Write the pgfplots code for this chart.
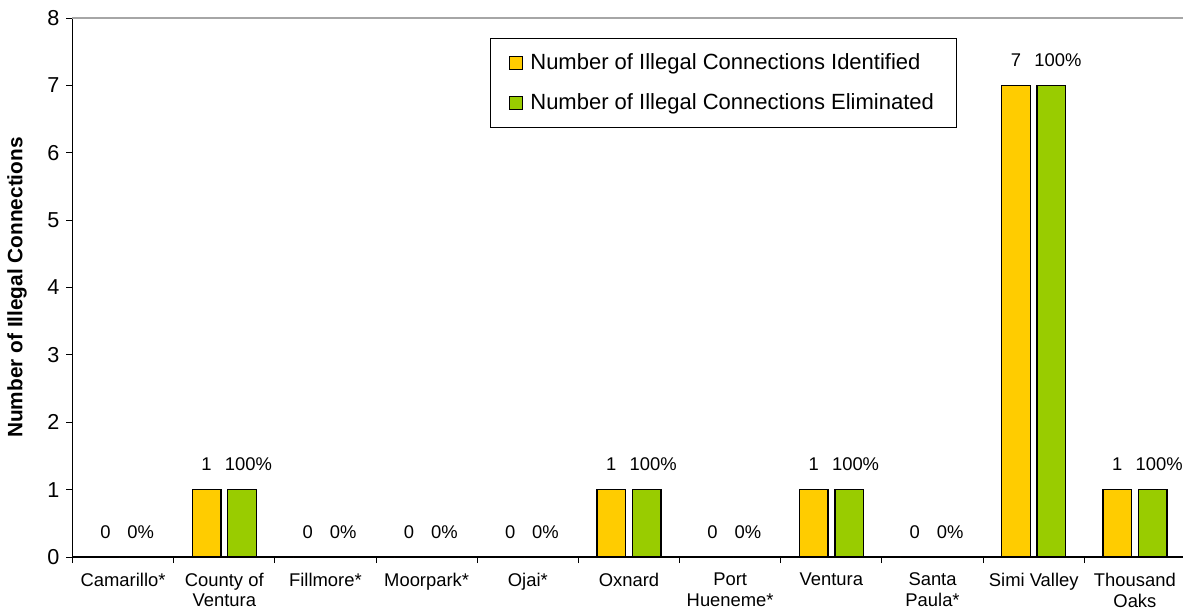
\documentclass[border=0pt]{standalone}
\usepackage{pgfplots}
\usepackage{pgfplotstable}
\pgfplotsset{compat=1.18}
\usepackage{fontspec}
\setmainfont{Liberation Sans}
\definecolor{cyellow}{HTML}{FFCC00}
\definecolor{cgreen}{HTML}{99CC00}

\pgfplotstableread{
x y lab
0 0 0
1 1 1
2 0 0
3 0 0
4 0 0
5 1 1
6 0 0
7 1 1
8 0 0
9 7 7
10 1 1
}\ident
\pgfplotstableread{
x y sh lab
0 0 0 0\%
1 1 3.25 100\%
2 0 0 0\%
3 0 0 0\%
4 0 0 0\%
5 1 3.25 100\%
6 0 0 0\%
7 1 3.25 100\%
8 0 0 0\%
9 7 3.25 100\%
10 1 3.25 100\%
}\elim

\begin{document}
\begin{tikzpicture}
\begin{axis}[name=ax, at={(0,0)}, anchor=south west,
  scale only axis, width=556.5pt, height=269.5pt,
  xmin=-0.5, xmax=10.5, ymin=0, ymax=8,
  axis x line*=bottom, axis y line*=left,
  axis line style={black, line width=0.7pt},
  xtick={-0.5,0.5,...,10.5}, xticklabel={\mbox{}},
  extra x ticks={0,...,10},
  extra x tick labels={Camarillo*, {County of\\Ventura}, Fillmore*, Moorpark*, Ojai*, Oxnard, {Port\\Hueneme*}, Ventura, {Santa\\Paula*}, Simi Valley, {Thousand\\Oaks}},
  extra x tick style={major tick length=0pt},
  ytick={0,...,8},
  extra y ticks={8}, extra y tick labels={},
  extra y tick style={grid=major, major grid style={gray!70, line width=0.6pt}},
  tick align=outside, major tick length=3pt,
  tick style={black, line width=0.5pt},
  /pgf/number format/assume math mode=true,
  yticklabel style={font=\fontsize{10.8}{12}\selectfont},
  xticklabel style={font=\fontsize{9.2}{10.3}\selectfont, align=center, yshift=-4.5pt},
  ylabel={Number of Illegal Connections},
  ylabel style={font=\bfseries\fontsize{10.4}{12}\selectfont, at={(axis description cs:-0.04987,0.5)}, anchor=center},
  ybar, bar width=14.3pt,
  point meta=explicit symbolic,
  nodes near coords,
  every node near coord/.append style={font=\fontsize{9.2}{11}\selectfont, anchor=center, yshift=12.5pt, text=black},
  legend style={at={(axis description cs:0.375,0.963)}, anchor=north west, draw=black, line width=0.5pt,
    font=\fontsize{11}{13}\selectfont, row sep=6.5pt, inner xsep=9.5pt, inner ysep=5.5pt, cells={anchor=west}},
  legend image code/.code={\draw[#1,draw=black,line width=0.5pt] (0pt,-3.25pt) rectangle (6.5pt,3.25pt);},
  /tikz/every odd column/.append style={column sep=1.5pt},
]
\addplot[fill=cyellow, draw=black, line width=0.75pt, bar shift=-8.85pt] table[x=x, y=y, meta=lab]{\ident};
\addlegendentry{Number of Illegal Connections Identified}
\addplot[fill=cgreen, draw=black, line width=0.75pt, bar shift=8.85pt,
  visualization depends on={\thisrow{sh} \as \lsh},
  every node near coord/.append style={xshift=\lsh pt}] table[x=x, y=y, meta=lab]{\elim};
\addlegendentry{Number of Illegal Connections Eliminated}
\end{axis}
\pgfresetboundingbox
\path[use as bounding box] (-36.25pt,-27.5pt) rectangle (555.25pt,278.5pt);
\end{tikzpicture}
\end{document}
